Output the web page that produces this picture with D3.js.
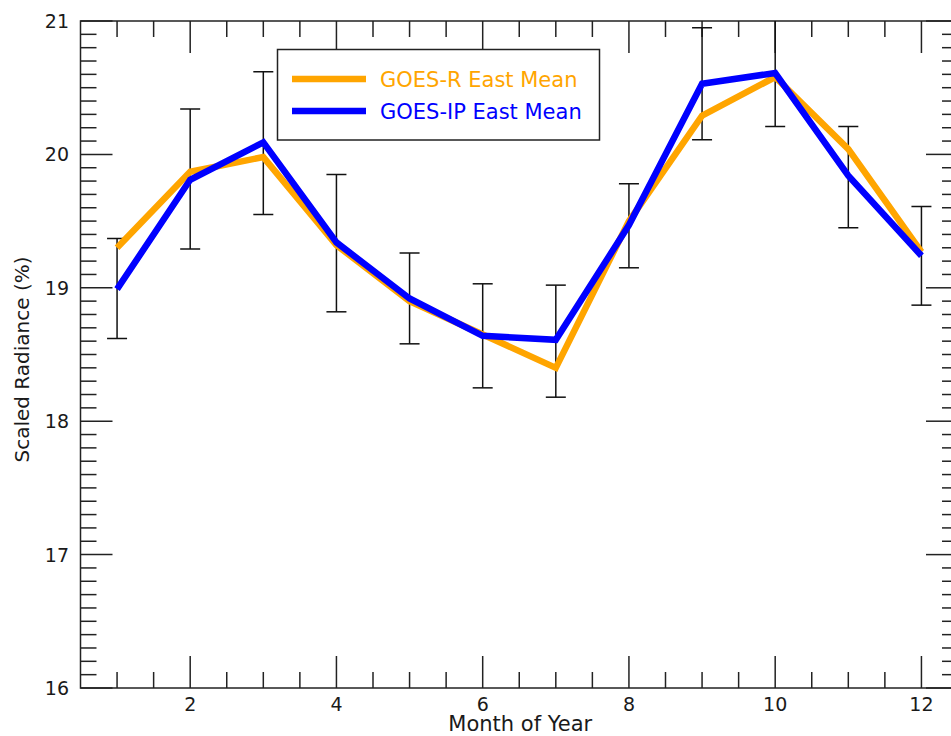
<!DOCTYPE html>
<html>
<head>
<meta charset="utf-8">
<script src="https://cdn.jsdelivr.net/npm/d3@7"></script>
<style>
  html, body { margin: 0; padding: 0; background: #fff; }
  svg { display: block; font-family: "DejaVu Sans", sans-serif; }
</style>
</head>
<body>
<svg id="chart" width="951" height="736"></svg>
<script>
// Monthly means of scaled radiance (%) for the two instruments
const months = [1, 2, 3, 4, 5, 6, 7, 8, 9, 10, 11, 12];
const goesREast = [19.30, 19.87, 19.98, 19.32, 18.90, 18.65, 18.40, 19.50, 20.29, 20.58, 20.04, 19.27];
const goesIPEast = [18.99, 19.81, 20.09, 19.34, 18.92, 18.64, 18.61, 19.47, 20.53, 20.61, 19.84, 19.24];
// Error bar extents (low / high) around the GOES-IP mean
const errLow  = [18.62, 19.29, 19.55, 18.82, 18.58, 18.25, 18.18, 19.15, 20.11, 20.21, 19.45, 18.87];
const errHigh = [19.37, 20.34, 20.62, 19.85, 19.26, 19.03, 19.02, 19.78, 20.95, 21.01, 20.21, 19.61];
const xTickValues = [2, 4, 6, 8, 10, 12];
const yTickValues = [16, 17, 18, 19, 20, 21];
const seriesNames = ["GOES-R East Mean", "GOES-IP East Mean"];
const seriesColors = ["#FFA500", "#0000FF"];

const svg = d3.select("#chart");
const pLeft = 80.5, pRight = 958, pTop = 21, pBottom = 688;

const x = d3.scaleLinear().domain([0.5, 12.5]).range([pLeft, pRight]);
const y = d3.scaleLinear().domain([16, 21]).range([pBottom, pTop]);

const minorX = d3.range(1, 12.01, 0.5).filter(v => !xTickValues.includes(v));
const minorY = d3.range(16.1, 21, 0.1).map(v => +v.toFixed(1)).filter(v => !yTickValues.includes(v));

const MAJ = 32, MIN = 16;
const axisStroke = "#222";
const textColor = "#1a1a1a";

// clip region for data
svg.append("defs").append("clipPath").attr("id", "plotClip")
  .append("rect").attr("x", pLeft).attr("y", pTop).attr("width", pRight - pLeft).attr("height", pBottom - pTop);

// inward-pointing ticks on all four sides
const tg = svg.append("g").attr("stroke", axisStroke).attr("stroke-width", 1.5);
function addXTicks(values, len) {
  tg.append("g").selectAll("line").data(values).join("line")
    .attr("x1", d => x(d)).attr("x2", d => x(d)).attr("y1", pBottom).attr("y2", pBottom - len);
  tg.append("g").selectAll("line").data(values).join("line")
    .attr("x1", d => x(d)).attr("x2", d => x(d)).attr("y1", pTop).attr("y2", pTop + len);
}
function addYTicks(values, len) {
  tg.append("g").selectAll("line").data(values).join("line")
    .attr("y1", d => y(d)).attr("y2", d => y(d)).attr("x1", pLeft).attr("x2", pLeft + len);
  tg.append("g").selectAll("line").data(values).join("line")
    .attr("y1", d => y(d)).attr("y2", d => y(d)).attr("x1", pRight).attr("x2", pRight - len);
}
addXTicks(xTickValues, MAJ);
addXTicks(minorX, MIN);
addYTicks(yTickValues, MAJ);
addYTicks(minorY, MIN);

// frame
svg.append("rect").attr("x", pLeft).attr("y", pTop).attr("width", pRight - pLeft).attr("height", pBottom - pTop)
  .attr("fill", "none").attr("stroke", axisStroke).attr("stroke-width", 1.5);

// tick labels
svg.append("g").selectAll("text").data(xTickValues).join("text")
  .attr("x", d => x(d)).attr("y", 710.5).attr("text-anchor", "middle")
  .attr("font-size", 19).attr("fill", textColor).text(d => d);
svg.append("g").selectAll("text").data(yTickValues).join("text")
  .attr("x", 69).attr("y", d => y(d) + 7).attr("text-anchor", "end")
  .attr("font-size", 19).attr("fill", textColor).text(d => d);

// axis titles
svg.append("text").attr("x", (pLeft + pRight) / 2 + 1).attr("y", 731).attr("text-anchor", "middle")
  .attr("font-size", 21).attr("fill", textColor).text("Month of Year");
svg.append("text").attr("transform", `translate(29,${(pTop + pBottom) / 2 + 5}) rotate(-90)`)
  .attr("text-anchor", "middle").attr("font-size", 20).attr("fill", textColor).text("Scaled Radiance (%)");

const plot = svg.append("g").attr("clip-path", "url(#plotClip)");

// error bars
const eb = plot.append("g").attr("stroke", "#111").attr("stroke-width", 1.5);
months.forEach((m, i) => {
  eb.append("line").attr("x1", x(m)).attr("x2", x(m)).attr("y1", y(errLow[i])).attr("y2", y(errHigh[i]));
  eb.append("line").attr("x1", x(m) - 10).attr("x2", x(m) + 10).attr("y1", y(errLow[i])).attr("y2", y(errLow[i]));
  eb.append("line").attr("x1", x(m) - 10).attr("x2", x(m) + 10).attr("y1", y(errHigh[i])).attr("y2", y(errHigh[i]));
});

// mean lines
const line = d3.line().x((d, i) => x(months[i])).y(d => y(d));
[goesREast, goesIPEast].forEach((s, k) => {
  plot.append("path").datum(s).attr("d", line).attr("fill", "none")
    .attr("stroke", seriesColors[k]).attr("stroke-width", 6.5).attr("stroke-linejoin", "miter");
});

// legend
const lg = svg.append("g");
lg.append("rect").attr("x", 277.5).attr("y", 49.5).attr("width", 322).attr("height", 90.5)
  .attr("fill", "#fff").attr("stroke", axisStroke).attr("stroke-width", 1.5);
seriesNames.forEach((name, k) => {
  const yy = 79 + k * 32;
  lg.append("line").attr("x1", 292).attr("x2", 366).attr("y1", yy).attr("y2", yy)
    .attr("stroke", seriesColors[k]).attr("stroke-width", 6.5);
  lg.append("text").attr("x", 380).attr("y", yy + 7.5).attr("font-size", 21)
    .attr("fill", seriesColors[k]).text(name);
});
</script>
</body>
</html>
